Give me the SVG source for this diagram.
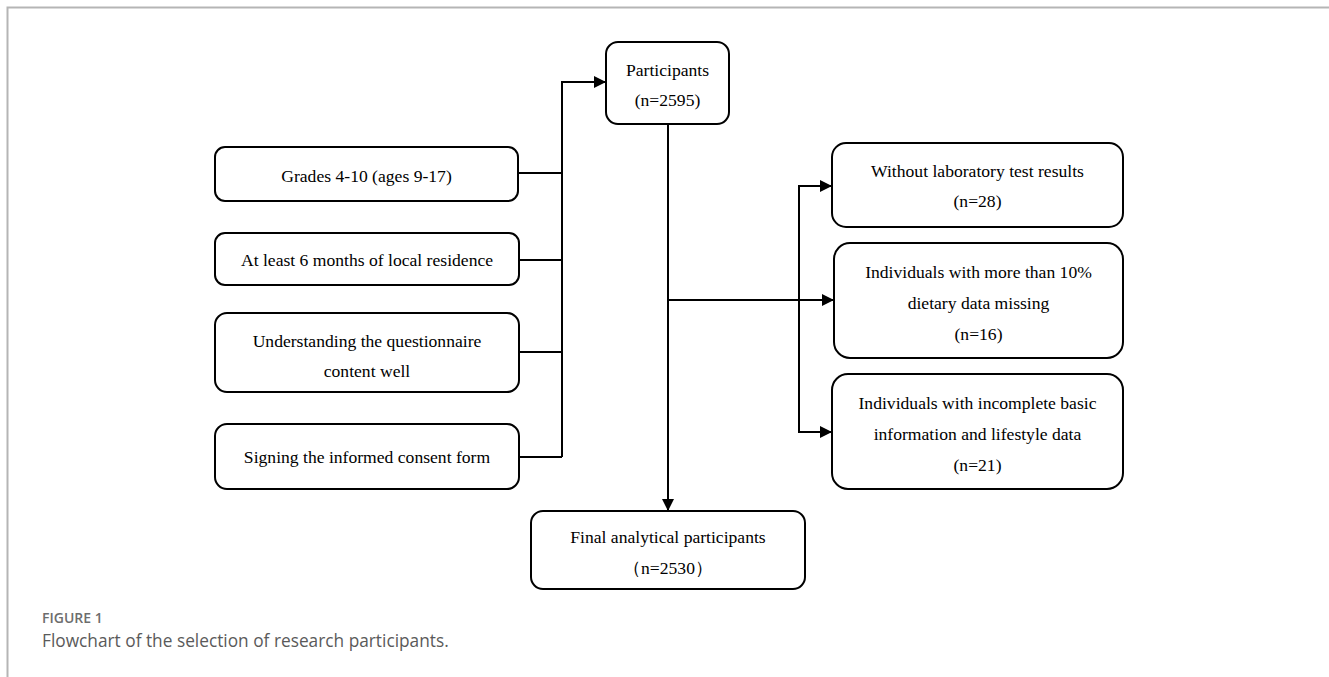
<svg xmlns="http://www.w3.org/2000/svg" width="1329" height="677" viewBox="0 0 1329 677">
<style>
.box{fill:#fff;stroke:#000;stroke-width:2}
.t{font-family:"Liberation Serif","Times New Roman",serif;font-size:17.6px;fill:#000;text-anchor:middle}
.c{fill:none;stroke:#000;stroke-width:2}
.cap1{font-family:"Open Sans","Noto Sans",sans-serif;font-size:14px;font-weight:600;fill:#6d6d6d}
.cap2{font-family:"Open Sans","Noto Sans",sans-serif;font-size:17.3px;fill:#5a5a5a}
</style>
<defs>
<marker id="ah" markerWidth="12" markerHeight="12" viewBox="0 0 12 12" refX="12" refY="6" orient="auto" markerUnits="userSpaceOnUse">
<path d="M0,0 L12,6 L0,12 Z" fill="#000"/>
</marker>
</defs>
<rect width="1329" height="677" fill="#fff"/>
<g id="frame">
<path d="M7.5,677 V7.5 H1329" fill="none" stroke="#b5b5b5" stroke-width="2"/>
</g>
<g id="connectors">
<path class="c" d="M518,173 H562 M519,260 H562 M519,352 H562 M519,457 H562"/>
<path class="c" d="M562,457 V82 H606" marker-end="url(#ah)"/>
<path class="c" d="M668,124 V511" marker-end="url(#ah)"/>
<path class="c" d="M668,300 H834" marker-end="url(#ah)"/>
<path class="c" d="M799,186 V432"/>
<path class="c" d="M798,186 H832" marker-end="url(#ah)"/>
<path class="c" d="M798,432 H832" marker-end="url(#ah)"/>
</g>
<g id="participants">
<rect class="box" x="606" y="42" width="123" height="82" rx="12"/>
<text class="t" x="667.5" y="76">Participants</text>
<text class="t" x="667.5" y="106">(n=2595)</text>
</g>
<g id="grades">
<rect class="box" x="215" y="147" width="303" height="54" rx="10"/>
<text class="t" x="366.5" y="182">Grades 4-10 (ages 9-17)</text>
</g>
<g id="residence">
<rect class="box" x="215" y="233" width="304" height="52" rx="10"/>
<text class="t" x="367" y="266">At least 6 months of local residence</text>
</g>
<g id="understanding">
<rect class="box" x="215" y="313" width="304" height="79" rx="12"/>
<text class="t" x="367" y="347">Understanding the questionnaire</text>
<text class="t" x="367" y="377">content well</text>
</g>
<g id="consent">
<rect class="box" x="215" y="424" width="304" height="65" rx="12"/>
<text class="t" x="367" y="463">Signing the informed consent form</text>
</g>
<g id="no-lab">
<rect class="box" x="832" y="143" width="291" height="84" rx="14"/>
<text class="t" x="977.5" y="177">Without laboratory test results</text>
<text class="t" x="977.5" y="207">(n=28)</text>
</g>
<g id="diet-missing">
<rect class="box" x="834" y="243" width="289" height="115" rx="16"/>
<text class="t" x="978.5" y="278">Individuals with more than 10%</text>
<text class="t" x="978.5" y="309">dietary data missing</text>
<text class="t" x="978.5" y="340">(n=16)</text>
</g>
<g id="incomplete">
<rect class="box" x="832" y="374" width="291" height="115" rx="16"/>
<text class="t" x="977.5" y="409">Individuals with incomplete basic</text>
<text class="t" x="977.5" y="440">information and lifestyle data</text>
<text class="t" x="977.5" y="471">(n=21)</text>
</g>
<g id="final">
<rect class="box" x="531" y="511" width="274" height="78" rx="12"/>
<text class="t" x="668" y="543">Final analytical participants</text>
<text class="t" x="668" y="574">（n=2530）</text>
</g>
<g id="caption">
<text class="cap1" x="42" y="623">FIGURE 1</text>
<text class="cap2" x="42" y="647">Flowchart of the selection of research participants.</text>
</g>
</svg>
